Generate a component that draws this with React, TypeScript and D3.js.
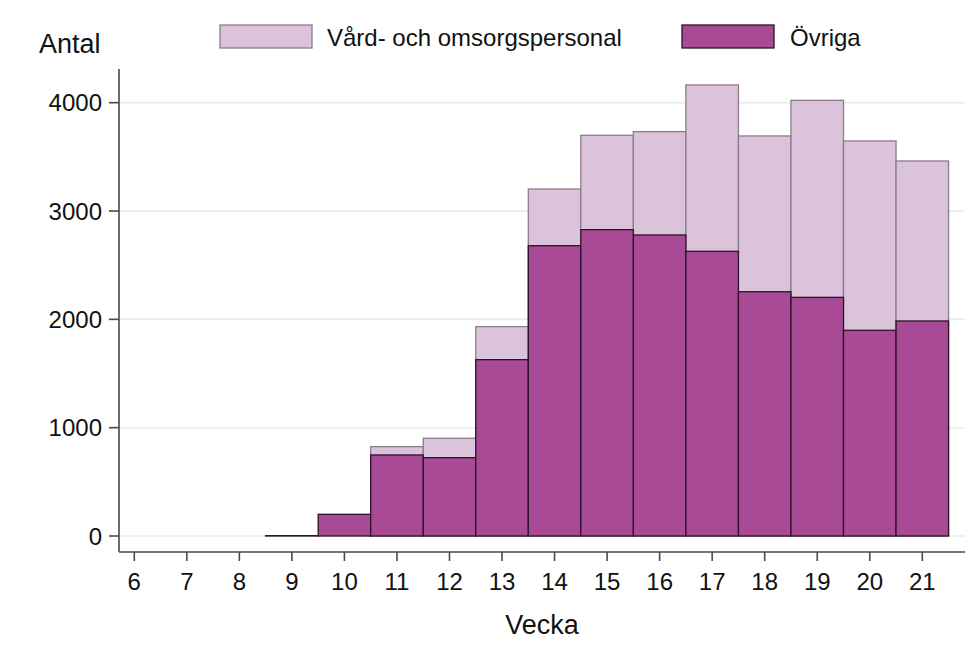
import React from "react";
import * as d3 from "d3";

const weeks = [9, 10, 11, 12, 13, 14, 15, 16, 17, 18, 19, 20, 21];
const ovriga = [3, 200, 748, 723, 1628, 2680, 2828, 2779, 2628, 2255, 2203, 1899, 1985];
const vard = [0, 0, 77, 179, 305, 523, 871, 954, 1536, 1438, 1819, 1748, 1477];
const xTicks = [6, 7, 8, 9, 10, 11, 12, 13, 14, 15, 16, 17, 18, 19, 20, 21];
const yTicks = [0, 1000, 2000, 3000, 4000];
const legendLabels = ["Vård- och omsorgspersonal", "Övriga"];

const FONT = "'Liberation Sans', Arial, sans-serif";
const DARK = "#a84a96";
const DARK_STROKE = "#2e1229";
const LIGHT = "#dcc3dc";
const LIGHT_STROKE = "#8c7c8a";
const GRID = "#e3eded";
const AXIS = "#4a4a4a";

export default function App() {
  const x = d3.scaleLinear().domain([6, 21]).range([134.3, 922.3]);
  const y = d3.scaleLinear().domain([0, 4000]).range([536, 102.7]);
  const axisX = 119;
  const axisY = 552;
  const half = (x(7) - x(6)) / 2;

  return (
    <svg width={976} height={646} style={{ position: "absolute", left: 0, top: 0 }} fontFamily={FONT}>
      <rect x={0} y={0} width={976} height={646} fill="#fff" />
      {/* grid */}
      {yTicks.map((t) => (
        <line key={"g" + t} x1={axisX + 1} x2={965} y1={y(t)} y2={y(t)} stroke={GRID} strokeWidth={1.6} />
      ))}
      {/* total (light) bars */}
      {weeks.map((w, i) => {
        const tot = ovriga[i] + vard[i];
        if (vard[i] <= 0) return null;
        return (
          <rect
            key={"l" + w}
            x={x(w) - half}
            width={half * 2}
            y={y(tot)}
            height={y(0) - y(tot)}
            fill={LIGHT}
            stroke={LIGHT_STROKE}
            strokeWidth={1.3}
          />
        );
      })}
      {/* Övriga bars */}
      {weeks.map((w, i) => (
        <rect
          key={"d" + w}
          x={x(w) - half}
          width={half * 2}
          y={y(ovriga[i])}
          height={Math.max(0, y(0) - y(ovriga[i]))}
          fill={DARK}
          stroke={DARK_STROKE}
          strokeWidth={1.3}
        />
      ))}
      {/* axes */}
      <line x1={axisX} x2={axisX} y1={69} y2={axisY} stroke={AXIS} strokeWidth={1.6} />
      <line x1={axisX} x2={965} y1={axisY} y2={axisY} stroke={AXIS} strokeWidth={1.6} />
      {yTicks.map((t) => (
        <g key={"yt" + t}>
          <line x1={axisX - 10} x2={axisX} y1={y(t)} y2={y(t)} stroke={AXIS} strokeWidth={1.6} />
          <text x={102} y={y(t)} dy="0.36em" textAnchor="end" fontSize={24} fill="#111">
            {t}
          </text>
        </g>
      ))}
      {xTicks.map((t) => (
        <g key={"xt" + t}>
          <line x1={x(t)} x2={x(t)} y1={axisY} y2={axisY + 9} stroke={AXIS} strokeWidth={1.6} />
          <text x={x(t)} y={590} textAnchor="middle" fontSize={24} fill="#111">
            {t}
          </text>
        </g>
      ))}
      <text x={39} y={53} fontSize={27} fill="#111">Antal</text>
      <text x={542} y={634} textAnchor="middle" fontSize={27} fill="#111">Vecka</text>
      {/* legend */}
      <rect x={220} y={25} width={92} height={23} fill={LIGHT} stroke={LIGHT_STROKE} strokeWidth={1.3} />
      <text x={327} y={46} fontSize={24} fill="#111">{legendLabels[0]}</text>
      <rect x={682} y={25} width={92} height={23} fill={DARK} stroke={DARK_STROKE} strokeWidth={1.3} />
      <text x={790} y={46} fontSize={24} fill="#111">{legendLabels[1]}</text>
    </svg>
  );
}
